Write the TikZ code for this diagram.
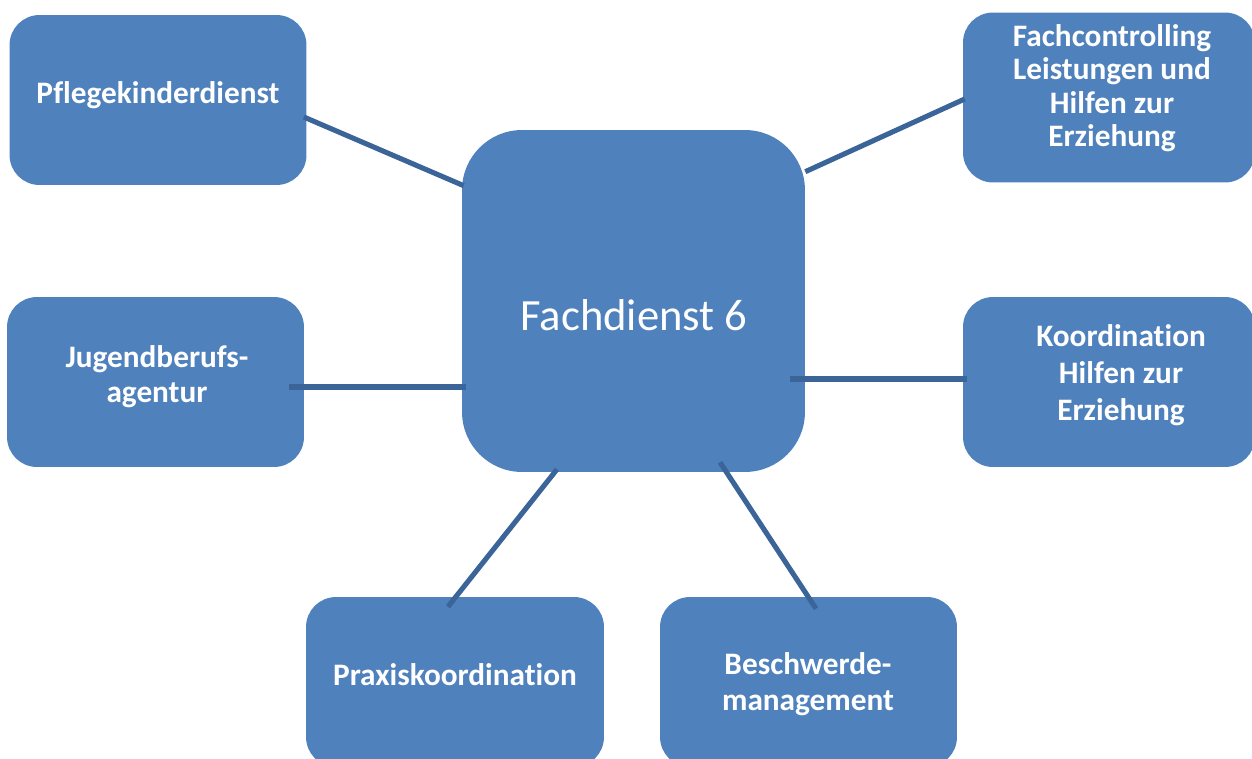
\documentclass[tikz,border=0pt]{standalone}
\usepackage{fontspec}
\setmainfont{Carlito}[Ligatures=NoCommon]
\usetikzlibrary{calc}
\definecolor{boxblue}{HTML}{4F81BD}
\definecolor{lineblue}{HTML}{3B6598}
\begin{document}
\begin{tikzpicture}[x=0.02cm,y=-0.02cm,
  box/.style={fill=boxblue,rounded corners=0.6cm,minimum width=5.94cm,minimum height=3.4cm},
  txt/.style={text=white,font=\fontsize{17.8}{20}\selectfont\bfseries,align=center},
  conn/.style={draw=lineblue,line width=2.9pt}]
\useasboundingbox (0,0) rectangle (1252,758);

\node[box] (pflege) at (158,100) {};
\node[box,minimum width=5.84cm] (fach) at (1109,97.5) {};
\node[box] (jugend) at (155.5,382) {};
\node[box,minimum width=5.84cm] (koord) at (1109,382) {};
\node[box,minimum width=5.96cm] (praxis) at (455,682) {};
\node[box] (beschw) at (808.5,682) {};
\node[box,rounded corners=1.2cm,minimum width=6.86cm,minimum height=6.84cm] (fd) at (633.5,301) {};

\node[txt] (pflegetxt) at (158,95) {Pflegekinderdienst};
\node[txt,font=\fontsize{17.8}{19}\selectfont\bfseries] (fachtxt) at (1112,88) {Fachcontrolling\\Leistungen und\\Hilfen zur\\Erziehung};
\node[txt,font=\fontsize{17.8}{20}\selectfont\bfseries] (jugendtxt) at (157,377) {Jugendberufs-\\agentur};
\node[txt,font=\fontsize{17.8}{21}\selectfont\bfseries] (koordtxt) at (1121,375) {Koordination\\Hilfen zur\\Erziehung};
\node[txt] (praxistxt) at (455,675) {Praxiskoordination};
\node[txt,font=\fontsize{17.8}{20.5}\selectfont\bfseries] (beschwtxt) at (808,684) {Beschwerde-\\management};
\node[text=white,font=\fontsize{25.4}{30}\selectfont] (fdtxt) at (634,315) {Fachdienst 6};

\draw[conn] ($(pflege.east)+(-3,17)$) -- ($(fd.north west)+(2,56)$);
\draw[conn] ($(fd.north east)+(0,42)$) -- ($(fach.west)+(2,1.5)$);
\draw[conn] ($(jugend.east)+(-15,5)$) -- ($(fd.west)+(4,86)$);
\draw[conn] ($(fd.east)+(-15,78)$) -- ($(koord.west)+(4,-3)$);
\draw[conn] ($(fd.south)+(-76.5,-3)$) -- ($(praxis.north)+(-7,10)$);
\draw[conn] ($(fd.south)+(86.5,-10)$) -- ($(beschw.north)+(7.5,12)$);
\end{tikzpicture}
\end{document}
